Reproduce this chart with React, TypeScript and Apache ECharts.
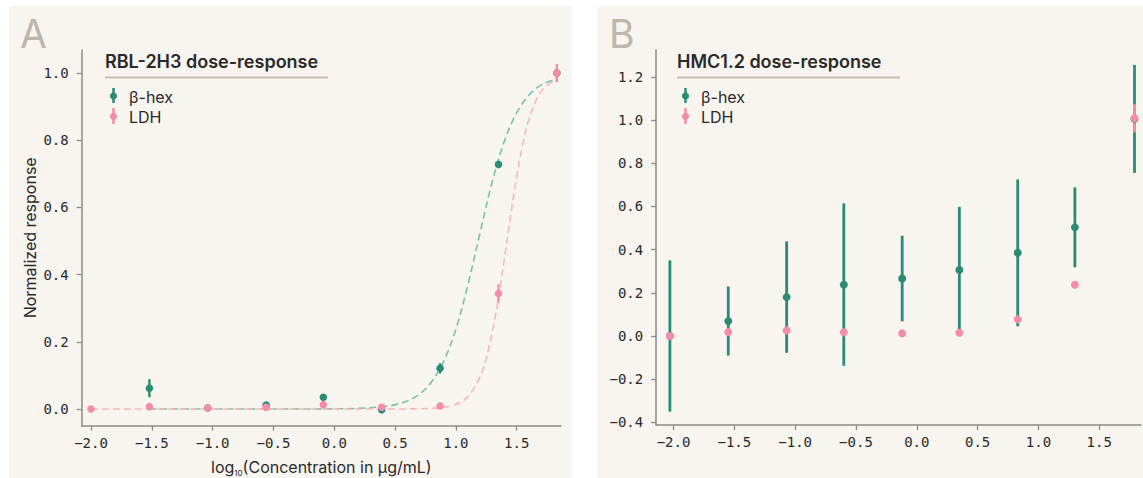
import React, { useEffect, useRef } from "react";
import * as echarts from "echarts";

// ---------- tick values ----------
const xTicks = [-2, -1.5, -1, -0.5, 0, 0.5, 1, 1.5];
const yTicksA = [0, 0.2, 0.4, 0.6, 0.8, 1.0];
const yTicksB = [-0.4, -0.2, 0, 0.2, 0.4, 0.6, 0.8, 1.0, 1.2];

// ---------- Panel A: RBL-2H3 ----------
const hexDoseA = [-1.52, -1.04, -0.56, -0.09, 0.39, 0.87, 1.35, 1.83];
const hexMeanA = [0.062, 0.003, 0.012, 0.035, -0.002, 0.121, 0.728, 1.0];
const hexErrA = [0.027, 0.004, 0.004, 0.004, 0.004, 0.015, 0.01, 0.01];

const ldhDoseA = [-2.0, -1.52, -1.04, -0.56, -0.09, 0.39, 0.87, 1.35, 1.83];
const ldhMeanA = [0.0, 0.007, 0.003, 0.005, 0.013, 0.005, 0.009, 0.344, 1.0];
const ldhErrA = [0.002, 0.004, 0.003, 0.003, 0.004, 0.003, 0.004, 0.027, 0.027];

// fitted curves
const hexFitX = [-1.52, -1.0, -0.5, 0.0, 0.2, 0.4, 0.5, 0.6, 0.7, 0.8, 0.9, 1.0, 1.1, 1.2, 1.3, 1.4, 1.5, 1.6, 1.7, 1.83];
const hexFitY = [0.0, 0.0, 0.0, 0.0005, 0.002, 0.007, 0.013, 0.024, 0.044, 0.081, 0.142, 0.238, 0.371, 0.527, 0.678, 0.799, 0.882, 0.934, 0.964, 0.983];
const ldhFitX = [-2.0, -1.0, 0.0, 0.4, 0.6, 0.8, 0.9, 1.0, 1.1, 1.2, 1.25, 1.3, 1.35, 1.4, 1.45, 1.5, 1.55, 1.6, 1.7, 1.83];
const ldhFitY = [0.0, 0.0, 0.0, 0.0, 0.0002, 0.002, 0.005, 0.014, 0.037, 0.097, 0.152, 0.229, 0.33, 0.45, 0.576, 0.692, 0.789, 0.861, 0.945, 0.983];

// ---------- Panel B: HMC1.2 ----------
const doseB = [-2.03, -1.55, -1.07, -0.6, -0.12, 0.35, 0.83, 1.3, 1.79];
const hexMeanB = [0.0, 0.069, 0.18, 0.238, 0.266, 0.306, 0.385, 0.503, 1.005];
const hexErrB = [0.35, 0.16, 0.258, 0.376, 0.198, 0.292, 0.34, 0.185, 0.25];
const ldhMeanB = [0.0, 0.018, 0.026, 0.017, 0.012, 0.015, 0.077, 0.237, 1.008];
const ldhErrB = [0.0, 0.0, 0.0, 0.0, 0.0, 0.0, 0.0, 0.0, 0.065];

const GREEN = "#2c8c73";
const PINK = "#f38dab";
const GREEN_FIT = "#76c3ad";
const PINK_FIT = "#f6b7b8";
const BG = "#f8f4ef";
const AXIS = "#8b8b8b";
const TXT = "#2a2a2a";
const MONO = "'DejaVu Sans Mono', monospace";
const SANS = "Inter, 'Noto Sans', sans-serif";

const fmt = (v: number) => (v < 0 ? "\u2212" : "") + Math.abs(v).toFixed(1);

function errorSeries(xs: number[], ys: number[], es: number[], color: string, width: number, idx: number) {
  return {
    type: "custom",
    xAxisIndex: idx,
    yAxisIndex: idx,
    data: xs.map((x, i) => [x, ys[i] - es[i], ys[i] + es[i]]),
    encode: { x: 0, y: [1, 2] },
    renderItem: (_p: any, api: any) => {
      const a = api.coord([api.value(0), api.value(1)]);
      const b = api.coord([api.value(0), api.value(2)]);
      return {
        type: "line",
        shape: { x1: a[0], y1: a[1], x2: b[0], y2: b[1] },
        style: { stroke: color, lineWidth: width },
      };
    },
    z: 3,
  };
}

function pointSeries(xs: number[], ys: number[], color: string, size: number, idx: number) {
  return {
    type: "scatter",
    xAxisIndex: idx,
    yAxisIndex: idx,
    data: xs.map((x, i) => [x, ys[i]]),
    symbol: "circle",
    symbolSize: size,
    itemStyle: { color, opacity: 1 },
    z: 4,
  };
}

function fitSeries(xs: number[], ys: number[], color: string) {
  return {
    type: "line",
    xAxisIndex: 0,
    yAxisIndex: 0,
    data: xs.map((x, i) => [x, ys[i]]),
    smooth: 0.35,
    showSymbol: false,
    symbol: "none",
    lineStyle: { color, width: 1.6, type: [7, 4] },
    z: 2,
  };
}

function legend(x0: number, title: string, underlineEnd: number) {
  return [
    {
      type: "text",
      x: x0,
      y: 61,
      style: { text: title, font: `600 18px ${SANS}`, fill: TXT, verticalAlign: "middle", align: "left" },
    },
    {
      type: "line",
      shape: { x1: x0, y1: 77.5, x2: underlineEnd, y2: 77.5 },
      style: { stroke: "#c6beb3", lineWidth: 2 },
    },
    { type: "line", shape: { x1: x0 + 8.5, y1: 88, x2: x0 + 8.5, y2: 103 }, style: { stroke: GREEN, lineWidth: 2.5 } },
    { type: "circle", shape: { cx: x0 + 8.5, cy: 96, r: 3.6 }, style: { fill: GREEN } },
    {
      type: "text",
      x: x0 + 24,
      y: 97,
      style: { text: "\u03b2-hex", font: `400 16px ${SANS}`, fill: TXT, verticalAlign: "middle", align: "left" },
    },
    { type: "line", shape: { x1: x0 + 8.5, y1: 108, x2: x0 + 8.5, y2: 124 }, style: { stroke: PINK, lineWidth: 2.5 } },
    { type: "circle", shape: { cx: x0 + 8.5, cy: 116.5, r: 3.6 }, style: { fill: PINK } },
    {
      type: "text",
      x: x0 + 24,
      y: 117,
      style: { text: "LDH", font: `400 16px ${SANS}`, fill: TXT, verticalAlign: "middle", align: "left" },
    },
  ];
}

export default function App() {
  const ref = useRef<HTMLDivElement>(null);
  useEffect(() => {
    if (!ref.current) return;
    const chart = echarts.init(ref.current, undefined, { renderer: "svg" });

    const axisLine = { show: true, onZero: false, lineStyle: { color: AXIS, width: 1.5 } };
    const tick = (vals: number[]) => ({ show: true, customValues: vals, length: 5, lineStyle: { color: AXIS, width: 1.3 } });
    const label = (vals: number[], margin: number) => ({
      customValues: vals,
      formatter: fmt,
      fontFamily: MONO,
      fontSize: 14,
      color: TXT,
      margin,
    });

    const option: any = {
      animation: false,
      backgroundColor: "#ffffff",
      grid: [
        { left: 81.7, top: 50, width: 479.3, height: 375.7, containLabel: false, outerBoundsMode: "none" },
        { left: 656.2, top: 50, width: 484.8, height: 375, containLabel: false, outerBoundsMode: "none" },
      ],
      xAxis: [
        {
          type: "value",
          gridIndex: 0,
          min: -2.0765,
          max: 1.864,
          splitLine: { show: false },
          axisLine,
          axisTick: tick(xTicks),
          axisLabel: label(xTicks, 10),
          name: "{n|log}{s|10}{n|(Concentration in \u03bcg/mL)}",
          nameLocation: "middle",
          nameGap: 31,
          nameTextStyle: {
            rich: {
              n: { fontFamily: SANS, fontSize: 16, color: TXT, lineHeight: 20 },
              s: { fontFamily: SANS, fontSize: 8, color: TXT, lineHeight: 20, verticalAlign: "bottom", padding: [8, 0, 0, 0] },
            },
          },
        },
        {
          type: "value",
          gridIndex: 1,
          min: -2.1425,
          max: 1.8435,
          splitLine: { show: false },
          axisLine,
          axisTick: tick(xTicks),
          axisLabel: label(xTicks, 10),
        },
      ],
      yAxis: [
        {
          type: "value",
          gridIndex: 0,
          min: -0.0497,
          max: 1.0685,
          splitLine: { show: false },
          axisLine,
          axisTick: tick(yTicksA),
          axisLabel: label(yTicksA, 13),
          name: "Normalized response",
          nameLocation: "middle",
          nameGap: 44,
          nameRotate: 90,
          nameTextStyle: { fontFamily: SANS, fontSize: 16, color: TXT },
        },
        {
          type: "value",
          gridIndex: 1,
          min: -0.412,
          max: 1.324,
          splitLine: { show: false },
          axisLine,
          axisTick: tick(yTicksB),
          axisLabel: label(yTicksB, 13),
        },
      ],
      graphic: [
        { type: "rect", z: -10, shape: { x: 9, y: 6, width: 563, height: 472 }, style: { fill: BG } },
        { type: "rect", z: -10, shape: { x: 597, y: 6, width: 546, height: 472 }, style: { fill: BG } },
        {
          type: "text",
          x: 20,
          y: 33,
          style: { text: "A", font: `400 39px ${SANS}`, fill: "#bcb6ad", verticalAlign: "middle", align: "left" },
        },
        {
          type: "text",
          x: 609,
          y: 33,
          style: { text: "B", font: `400 39px ${SANS}`, fill: "#bcb6ad", verticalAlign: "middle", align: "left" },
        },
        ...legend(105, "RBL-2H3 dose-response", 328),
        ...legend(677, "HMC1.2 dose-response", 900),
      ],
      series: [
        fitSeries(hexFitX, hexFitY, GREEN_FIT),
        fitSeries(ldhFitX, ldhFitY, PINK_FIT),
        errorSeries(hexDoseA, hexMeanA, hexErrA, GREEN, 2.4, 0),
        pointSeries(hexDoseA, hexMeanA, GREEN, 7.5, 0),
        errorSeries(ldhDoseA, ldhMeanA, ldhErrA, PINK, 2.4, 0),
        pointSeries(ldhDoseA, ldhMeanA, PINK, 7.5, 0),
        errorSeries(doseB, hexMeanB, hexErrB, GREEN, 2.8, 1),
        pointSeries(doseB, hexMeanB, GREEN, 8, 1),
        errorSeries(doseB, ldhMeanB, ldhErrB, PINK, 2.8, 1),
        pointSeries(doseB, ldhMeanB, PINK, 8, 1),
      ],
    };
    chart.setOption(option);
    return () => chart.dispose();
  }, []);
  return (
    <div
      ref={ref}
      style={{ position: "absolute", left: 0, top: 0, width: 1143, height: 478 }}
    />
  );
}
